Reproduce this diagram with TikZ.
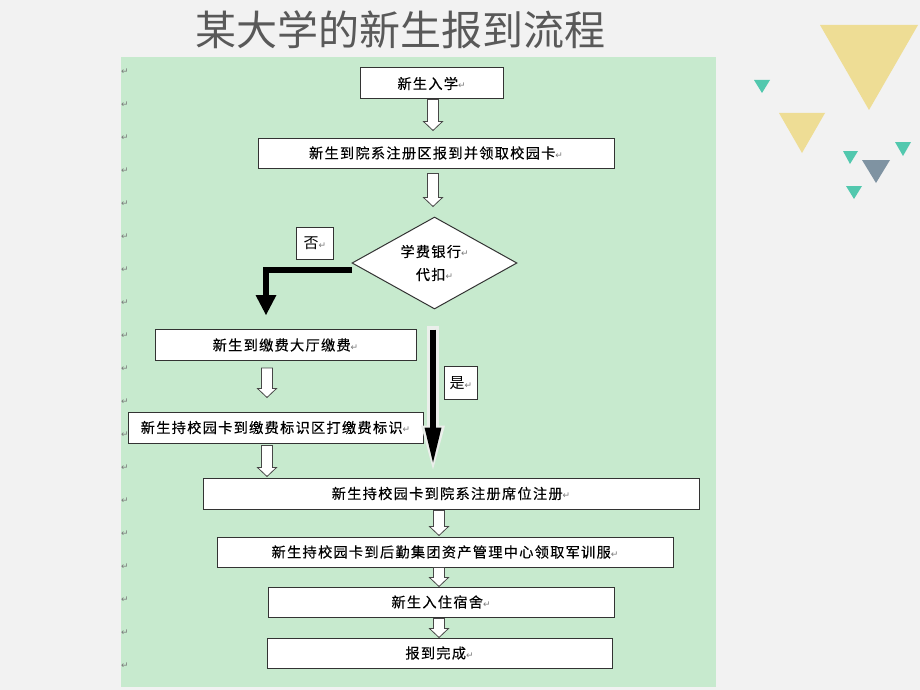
\documentclass[tikz,border=0pt]{standalone}
\usepackage{fontspec}
\usetikzlibrary{shapes.geometric,calc,arrows.meta}
\newfontfamily\cjk{Noto Sans CJK SC}
\newfontfamily\cjkbox[LetterSpace=9,FakeBold=0.3]{Noto Sans CJK SC}
\newfontfamily\dvs{DejaVu Sans}
\definecolor{bgc}{HTML}{F2F2F2}
\definecolor{grn}{HTML}{C7EACE}
\definecolor{titlec}{HTML}{595959}
\definecolor{boxline}{HTML}{333333}
\definecolor{pmgray}{HTML}{7A7A7A}
\definecolor{ylw}{HTML}{EEDD95}
\definecolor{teal}{HTML}{52C8AE}
\definecolor{slate}{HTML}{7F93A2}
\definecolor{glowc}{HTML}{EBEFEB}
\newcommand\pmk{{\dvs\fontsize{9}{9}\selectfont\textcolor{pmgray}{↵}}}
% hollow arrow: x, from node, to node, top gap, bottom gap
\newcommand\harrow[5]{\draw[hollow] let \p1=(#2.south), \p2=(#3.north) in
  (#1pt-5.5pt,\y1-#4pt) -- (#1pt+5.5pt,\y1-#4pt) -- (#1pt+5.5pt,\y2+#5pt+9pt)
  -- (#1pt+9.5pt,\y2+#5pt+9pt) -- (#1pt,\y2+#5pt) -- (#1pt-9.5pt,\y2+#5pt+9pt)
  -- (#1pt-5.5pt,\y2+#5pt+9pt) -- cycle;}
\begin{document}
\begin{tikzpicture}[x=1pt,y=-1pt,
  box/.style={draw=boxline, line width=1pt, fill=white, inner sep=0pt,
    font=\cjkbox\fontsize{14.2}{16}\selectfont},
  lbl/.style={draw=boxline, line width=1pt, fill=white, inner sep=0pt,
    font=\cjk\fontsize{15}{16}\selectfont},
  hollow/.style={draw=boxline!90, line width=0.8pt, fill=white},
  pm/.style={inner sep=0pt, font=\dvs\fontsize{9}{9}\selectfont, text=pmgray},
]
\useasboundingbox (0,0) rectangle (920,690);
\fill[bgc] (0,0) rectangle (920,690);
\fill[grn] (121,57) rectangle (716,687);

% title
\node[inner sep=0pt, text=titlec, font=\cjk\fontsize{41}{44}\selectfont] (title) at (400,30) {某大学的新生报到流程};

% decorative triangles
\fill[ylw] (820,25) -- (918,25) -- (869,110) -- cycle;
\fill[ylw] (779,113) -- (825,113) -- (802,153) -- cycle;
\fill[teal] (754,80) -- (770,80) -- (762,93) -- cycle;
\fill[teal] (843,151) -- (858,151) -- (850,164) -- cycle;
\fill[slate] (862,160) -- (890,160) -- (876,183) -- cycle;
\fill[teal] (895,142) -- (911,142) -- (903,156) -- cycle;
\fill[teal] (846,186) -- (862,186) -- (854,199) -- cycle;

% paragraph marks in left margin
\foreach \i in {0,...,18} \node[pm] (m\i) at (125,{72+33*\i}) {↵};

% boxes
\node[box, minimum width=143pt, minimum height=31pt] (b1) at (431.5,83.5) {新生入学\pmk};
\node[box, minimum width=356pt, minimum height=30pt] (b2) at (436,153) {新生到院系注册区报到并领取校园卡\pmk};
\node[box, diamond, minimum width=165pt, minimum height=92pt] (d) at (434.5,263) {};
\node[inner sep=0pt, align=center, font=\cjkbox\fontsize{14.2}{23}\selectfont] (dt) at (d.center) {学费银行\pmk\\代扣\pmk};
\node[lbl, minimum width=37pt, minimum height=32pt] (no) at (315,243) {否\pmk};
\node[box, minimum width=261pt, minimum height=31pt] (b6) at (285.5,345) {新生到缴费大厅缴费\pmk};
\node[box, minimum width=295pt, minimum height=31pt] (b8) at (275.5,427.5) {新生持校园卡到缴费标识区打缴费标识\pmk};
\node[lbl, minimum width=33pt, minimum height=33pt] (yes) at (461,383) {是\pmk};
\node[box, minimum width=496pt, minimum height=31pt] (b10) at (451,493.5) {新生持校园卡到院系注册席位注册\pmk};
\node[box, minimum width=456pt, minimum height=30pt] (b14) at (445,552) {新生持校园卡到后勤集团资产管理中心领取军训服\pmk};
\node[box, minimum width=346pt, minimum height=30pt] (b16) at (441,602) {新生入住宿舍\pmk};
\node[box, minimum width=345pt, minimum height=30pt] (b18) at (439.5,653) {报到完成\pmk};

% hollow arrows
\harrow{433}{b1}{b2}{0}{7}
\harrow{433}{b2}{d}{5}{10}
\harrow{267}{b6}{b8}{7}{14}
\harrow{267}{b8}{b10}{2}{1}
\harrow{439}{b10}{b14}{1}{1}
\harrow{439}{b14}{b16}{0}{0}
\harrow{439}{b16}{b18}{1}{0}

% "no" branch
\draw[line width=6.5pt, black, -{Triangle[length=20pt 0, width=21pt 0, line width=0pt]}]
  ($(d.west)+(0,7)$) -| ($(b6.north)+(-19.5,-14)$);

% "yes" branch
\draw[line width=12pt, glowc, -{Triangle[length=44pt 0, width=24pt 0, line width=0pt]}]
  ($(d.south)+(-1.5,16)$) -- ($(b10.north)+(-18,-8)$);
\draw[line width=6pt, black, -{Triangle[length=35pt 0, width=17pt 0, line width=0pt]}]
  ($(d.south)+(-1.5,20)$) -- ($(b10.north)+(-18,-15)$);
\end{tikzpicture}
\end{document}
